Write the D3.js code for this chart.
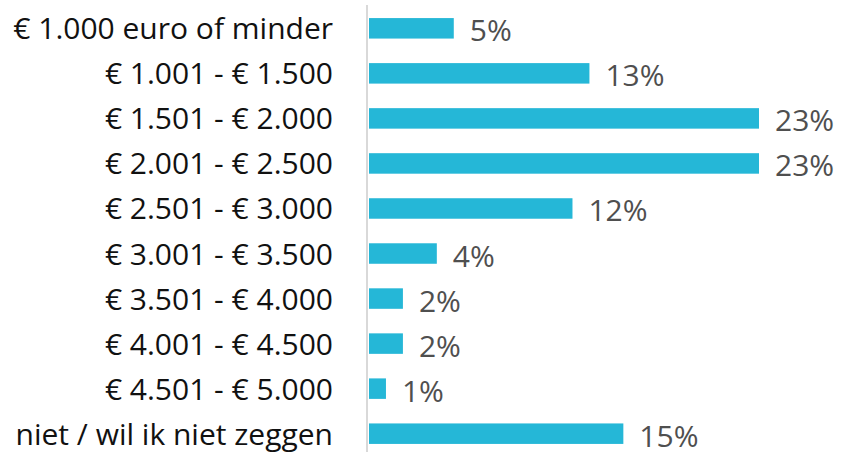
<!DOCTYPE html>
<html>
<head>
<meta charset="utf-8">
<script src="https://cdn.jsdelivr.net/npm/d3@7"></script>
<style>
  html, body { margin: 0; padding: 0; background: #fff; }
  svg { display: block; }
  text { font-family: 'Open Sans', 'Noto Sans', sans-serif; }
</style>
</head>
<body>
<svg id="chart" width="841" height="452"></svg>
<script>
const categories = [
  '€ 1.000 euro of minder',
  '€ 1.001 - € 1.500',
  '€ 1.501 - € 2.000',
  '€ 2.001 - € 2.500',
  '€ 2.501 - € 3.000',
  '€ 3.001 - € 3.500',
  '€ 3.501 - € 4.000',
  '€ 4.001 - € 4.500',
  '€ 4.501 - € 5.000',
  'niet / wil ik niet zeggen'
];
const values = [5, 13, 23, 23, 12, 4, 2, 2, 1, 15];

const width = 841, height = 452;
const axisX = 367;

const svg = d3.select('#chart');

const y = d3.scaleBand()
  .domain(categories)
  .range([5.8, 456.2])
  .paddingInner(0.545)
  .paddingOuter(0.2725);

const x = d3.scaleLinear()
  .domain([0, 23])
  .range([axisX + 2, 759]);

const data = categories.map((c, i) => ({ cat: c, val: values[i] }));

svg.selectAll('rect.bar')
  .data(data)
  .join('rect')
  .attr('class', 'bar')
  .attr('x', x(0))
  .attr('y', d => y(d.cat))
  .attr('width', d => x(d.val) - x(0))
  .attr('height', y.bandwidth())
  .attr('fill', '#25b7d7');

// value axis baseline
svg.append('line')
  .attr('x1', axisX).attr('x2', axisX)
  .attr('y1', 5).attr('y2', height)
  .attr('stroke', '#d9d9d9')
  .attr('stroke-width', 2);

// category labels
svg.selectAll('text.cat')
  .data(data)
  .join('text')
  .attr('class', 'cat')
  .attr('x', 333)
  .attr('y', d => y(d.cat) + y.bandwidth() / 2 + 11)
  .attr('text-anchor', 'end')
  .attr('font-size', 30)
  .attr('fill', '#111')
  .text(d => d.cat);

// value labels
svg.selectAll('text.val')
  .data(data)
  .join('text')
  .attr('class', 'val')
  .attr('x', d => x(d.val) + 16)
  .attr('y', d => y(d.cat) + y.bandwidth() / 2 + 13)
  .attr('font-size', 30)
  .attr('fill', '#4f4f4f')
  .text(d => d.val + '%');
</script>
</body>
</html>
